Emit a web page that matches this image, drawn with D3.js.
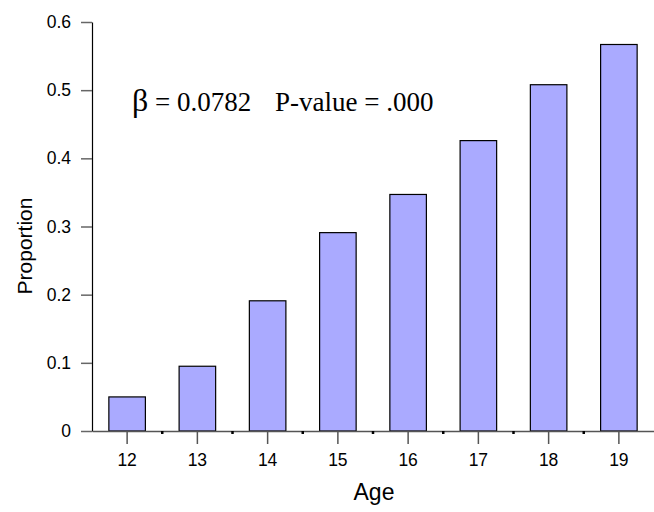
<!DOCTYPE html>
<html>
<head>
<meta charset="utf-8">
<script src="https://cdn.jsdelivr.net/npm/d3@7"></script>
<style>
	body { margin: 0; background: #fff; }
	svg { display: block; }
	.annot { font-family: "Times New Roman", "Liberation Serif", serif; fill: #000; }
</style>
</head>
<body>
<svg class="mainSvg" width="654" height="512"></svg>
<script>
var ages = ["12", "13", "14", "15", "16", "17", "18", "19"];
var proportions = [0.050, 0.095, 0.191, 0.291, 0.347, 0.426, 0.508, 0.567];
var yTicks = [0, 0.1, 0.2, 0.3, 0.4, 0.5, 0.6];
var yTickLabels = ["0", "0.1", "0.2", "0.3", "0.4", "0.5", "0.6"];
var betaText = "= 0.0782";
var pValueText = "P-value = .000";

function drawChart(){
	var svg = d3.select('.mainSvg');
	var sansFont = 'Arial, "Liberation Sans", sans-serif';

	//plot area edges
	var plotLeft = 92, plotRight = 654, plotTop = 22, plotBottom = 431;

	var xScale = d3.scaleBand()
		.domain(ages)
		.range([plotLeft, plotRight])
		.paddingInner(0.48)
		.paddingOuter(0.24);

	var yScale = d3.scaleLinear()
		.domain([0, 0.6])
		.range([plotBottom, plotTop]);

	//Bars first, axes drawn on top
	svg.append('g').classed('bars', true)
		.selectAll('rect').data(proportions)
		.enter()
		.append('rect')
		.attr('x', function(d, i){ return xScale(ages[i]); })
		.attr('y', function(d){ return yScale(d); })
		.attr('width', xScale.bandwidth())
		.attr('height', function(d){ return yScale(0) - yScale(d); })
		.attr('fill', '#aaaaff')
		.attr('stroke', '#000')
		.attr('stroke-width', 1.2);

	//Y axis
	var yAxis = svg.append('g').classed('axis yAxis', true)
		.attr('transform', 'translate(' + plotLeft + ',0)')
		.call(d3.axisLeft(yScale)
			.tickValues(yTicks)
			.tickFormat(function(d, i){ return yTickLabels[i]; })
			.tickSize(11)
			.tickPadding(10)
			.tickSizeOuter(0));
	yAxis.select('.domain').attr('stroke', '#000').attr('stroke-width', 1.2);
	yAxis.selectAll('.tick line').attr('stroke', '#666').attr('stroke-width', 1.5);

	//X axis
	var xAxis = svg.append('g').classed('axis xAxis', true)
		.attr('transform', 'translate(0,' + plotBottom + ')')
		.call(d3.axisBottom(xScale).tickSize(13).tickPadding(10).tickSizeOuter(0));
	xAxis.select('.domain').attr('stroke', '#555').attr('stroke-width', 1.5);
	xAxis.selectAll('.tick line').attr('stroke', '#555').attr('stroke-width', 1.5);

	svg.selectAll('.axis text')
		.attr('fill', '#000')
		.style('font-family', sansFont)
		.style('font-size', '17.5px');

	//minor ticks between the bars
	var step = xScale.step();
	xAxis.append('g').classed('minor', true)
		.selectAll('line').data(ages.slice(1))
		.enter()
		.append('line')
		.attr('x1', function(d){ return xScale(d) + xScale.bandwidth() / 2 - step / 2; })
		.attr('x2', function(d){ return xScale(d) + xScale.bandwidth() / 2 - step / 2; })
		.attr('y1', 0)
		.attr('y2', 3)
		.attr('stroke', '#000')
		.attr('stroke-width', 2.5);

	//Axis titles
	svg.append('text')
		.attr('x', (plotLeft + plotRight) / 2 + 1)
		.attr('y', 500)
		.attr('text-anchor', 'middle')
		.style('font-family', sansFont)
		.style('font-size', '23px')
		.text('Age');

	svg.append('text')
		.attr('transform', 'translate(32,246) rotate(-90)')
		.attr('text-anchor', 'middle')
		.style('font-family', sansFont)
		.style('font-size', '21px')
		.text('Proportion');

	//Regression annotation
	svg.append('text').classed('annot', true)
		.attr('x', 132)
		.attr('y', 111)
		.style('font-size', '32px')
		.text('\u03B2');
	svg.append('text').classed('annot', true)
		.attr('x', 155)
		.attr('y', 111)
		.style('font-size', '27px')
		.text(betaText);
	svg.append('text').classed('annot', true)
		.attr('x', 275)
		.attr('y', 111)
		.style('font-size', '27px')
		.text(pValueText);
}

drawChart();
</script>
</body>
</html>
